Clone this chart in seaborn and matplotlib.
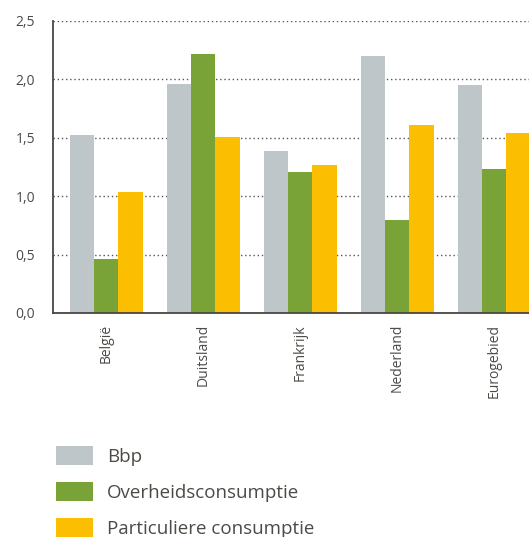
import matplotlib
matplotlib.use("Agg")
import matplotlib.pyplot as plt
from matplotlib.patches import Patch
import seaborn as sns
import pandas as pd

landen = ["België", "Duitsland", "Frankrijk", "Nederland", "Eurogebied"]
reeksen = ["Bbp", "Overheidsconsumptie", "Particuliere consumptie"]
bbp = [1.52, 1.96, 1.39, 2.20, 1.95]
overheid = [0.46, 2.22, 1.21, 0.80, 1.23]
particulier = [1.04, 1.51, 1.27, 1.61, 1.54]
y_ticks = [0.0, 0.5, 1.0, 1.5, 2.0, 2.5]
y_labels = ["0,0", "0,5", "1,0", "1,5", "2,0", "2,5"]

kleuren = ["#bec6c9", "#7aa337", "#fbbe00"]
tekst = "#4d4a46"
as_kleur = "#4a4540"

rows = []
for naam, waarden in zip(reeksen, [bbp, overheid, particulier]):
    for land, w in zip(landen, waarden):
        rows.append({"land": land, "reeks": naam, "waarde": w})
df = pd.DataFrame(rows)

sns.set_style("white")
plt.rcParams["font.family"] = ["Open Sans", "DejaVu Sans"]

fig = plt.figure(figsize=(5.29, 5.37), dpi=100)
ax = fig.add_axes([53 / 529, 1 - 313 / 537, 1 - 53 / 529, 292 / 537])

sns.barplot(data=df, x="land", y="waarde", hue="reeks", order=landen,
            hue_order=reeksen, palette=kleuren, width=0.75, saturation=1,
            linewidth=0, edgecolor="none", ax=ax, legend=False, zorder=3)

ax.set_xlabel("")
ax.set_ylabel("")

for s in ["top", "right"]:
    ax.spines[s].set_visible(False)
for s in ["left", "bottom"]:
    ax.spines[s].set_color(as_kleur)
    ax.spines[s].set_linewidth(1.3)
    ax.spines[s].set_zorder(4)

ax.set_yticks(y_ticks)
ax.set_yticklabels(y_labels)
ax.tick_params(axis="y", direction="out", length=7, width=1.2, color=as_kleur,
               labelsize=10, labelcolor=tekst, pad=6)

ax.set_xticks(range(len(landen)))
ax.set_xticklabels(landen, rotation=90, va="top", ha="center")
ax.tick_params(axis="x", which="major", length=0, labelsize=10,
               labelcolor=tekst, pad=8)
ax.set_xticks([i + 0.45 for i in range(len(landen) - 1)], minor=True)
ax.tick_params(axis="x", which="minor", direction="in", length=7, width=1.2,
               color=as_kleur)

ax.set_xlim(-0.55, 4.36)
ax.set_ylim(0, 2.5)

ax.set_axisbelow(True)
ax.yaxis.grid(True, linestyle=(0, (1, 2)), linewidth=1, color="#555555")
ax.xaxis.grid(False)

handles = [Patch(facecolor=k, edgecolor="none") for k in kleuren]
fig.legend(handles, reeksen, loc="upper left",
           bbox_to_anchor=(48 / 529, 1 - 438 / 537), frameon=False,
           fontsize=13.5, handlelength=2.0, handleheight=1.25,
           handletextpad=0.75, labelspacing=0.85, labelcolor=tekst,
           borderaxespad=0)

fig.savefig("out.png", dpi=100)
